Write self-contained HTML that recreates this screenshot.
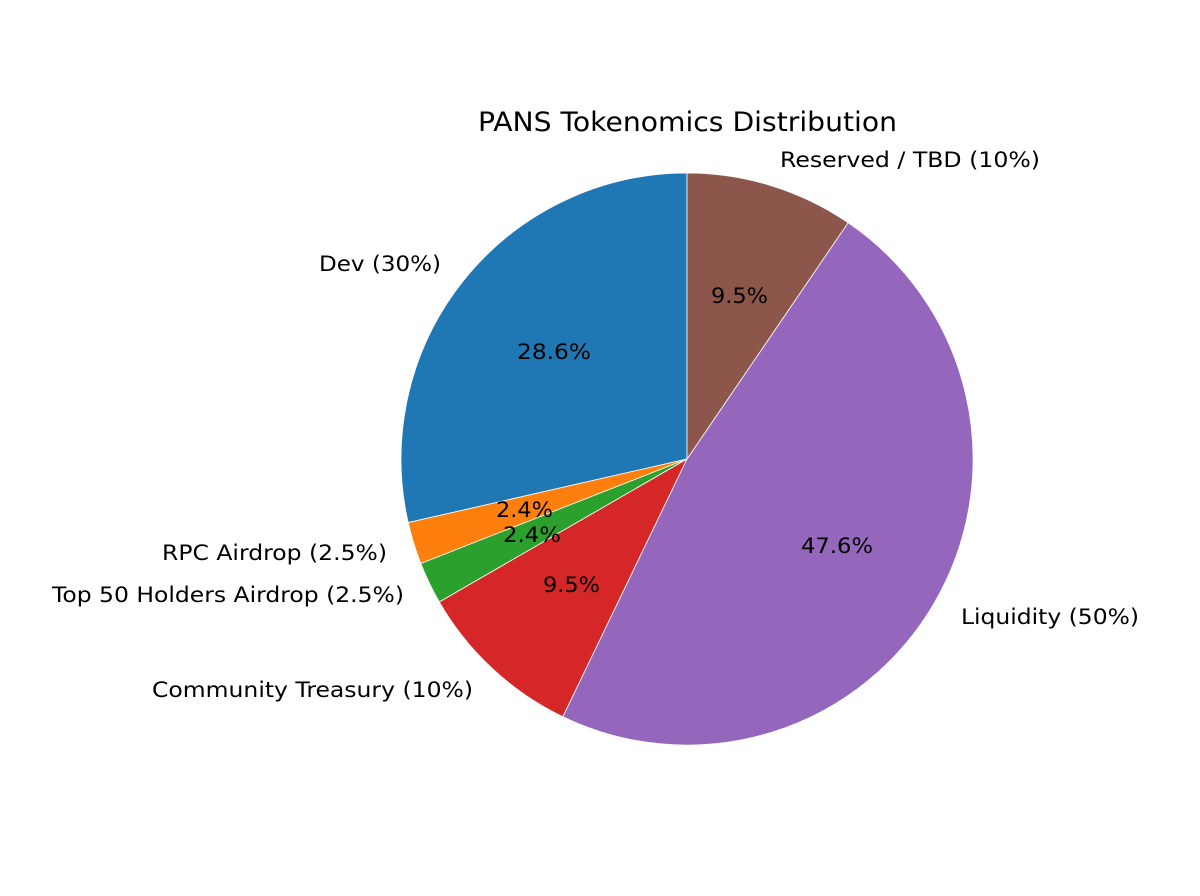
<!DOCTYPE html>
<html><head><style>html,body{margin:0;padding:0;background:#fff}</style></head>
<body>
<svg width="1200" height="891" xmlns="http://www.w3.org/2000/svg" font-family="DejaVu Sans, sans-serif">
<rect width="1200" height="891" fill="#fff"/>
<g stroke="#fff" stroke-width="0.8">
<path d="M687,459 L687,173 A286,286 0 0 0 408.2,522.6 Z" fill="#1f77b4"/>
<path d="M687,459 L408.2,522.6 A286,286 0 0 0 420.8,563.5 Z" fill="#ff7f0e"/>
<path d="M687,459 L420.8,563.5 A286,286 0 0 0 439.3,602 Z" fill="#2ca02c"/>
<path d="M687,459 L439.3,602 A286,286 0 0 0 562.9,716.7 Z" fill="#d62728"/>
<path d="M687,459 L562.9,716.7 A286,286 0 0 0 848.1,222.7 Z" fill="#9467bd"/>
<path d="M687,459 L848.1,222.7 A286,286 0 0 0 687,173 Z" fill="#8c564b"/>
</g>
<g font-size="21" fill="#000" lengthAdjust="spacingAndGlyphs">
<text x="478" y="131" font-size="27" textLength="419" lengthAdjust="spacingAndGlyphs">PANS Tokenomics Distribution</text>
<text x="319" y="271" textLength="122" lengthAdjust="spacingAndGlyphs">Dev (30%)</text>
<text x="162" y="560" textLength="225" lengthAdjust="spacingAndGlyphs">RPC Airdrop (2.5%)</text>
<text x="52" y="602" textLength="352" lengthAdjust="spacingAndGlyphs">Top 50 Holders Airdrop (2.5%)</text>
<text x="152" y="697" textLength="321" lengthAdjust="spacingAndGlyphs">Community Treasury (10%)</text>
<text x="961" y="624" textLength="178" lengthAdjust="spacingAndGlyphs">Liquidity (50%)</text>
<text x="780" y="167" textLength="260" lengthAdjust="spacingAndGlyphs">Reserved / TBD (10%)</text>
<text x="517" y="359" textLength="74" lengthAdjust="spacingAndGlyphs">28.6%</text>
<text x="496" y="517" textLength="57" lengthAdjust="spacingAndGlyphs">2.4%</text>
<text x="503" y="542" textLength="58" lengthAdjust="spacingAndGlyphs">2.4%</text>
<text x="543" y="592" textLength="57" lengthAdjust="spacingAndGlyphs">9.5%</text>
<text x="801" y="553" textLength="72" lengthAdjust="spacingAndGlyphs">47.6%</text>
<text x="711" y="303" textLength="57" lengthAdjust="spacingAndGlyphs">9.5%</text>
</g>
</svg>
</body></html>
